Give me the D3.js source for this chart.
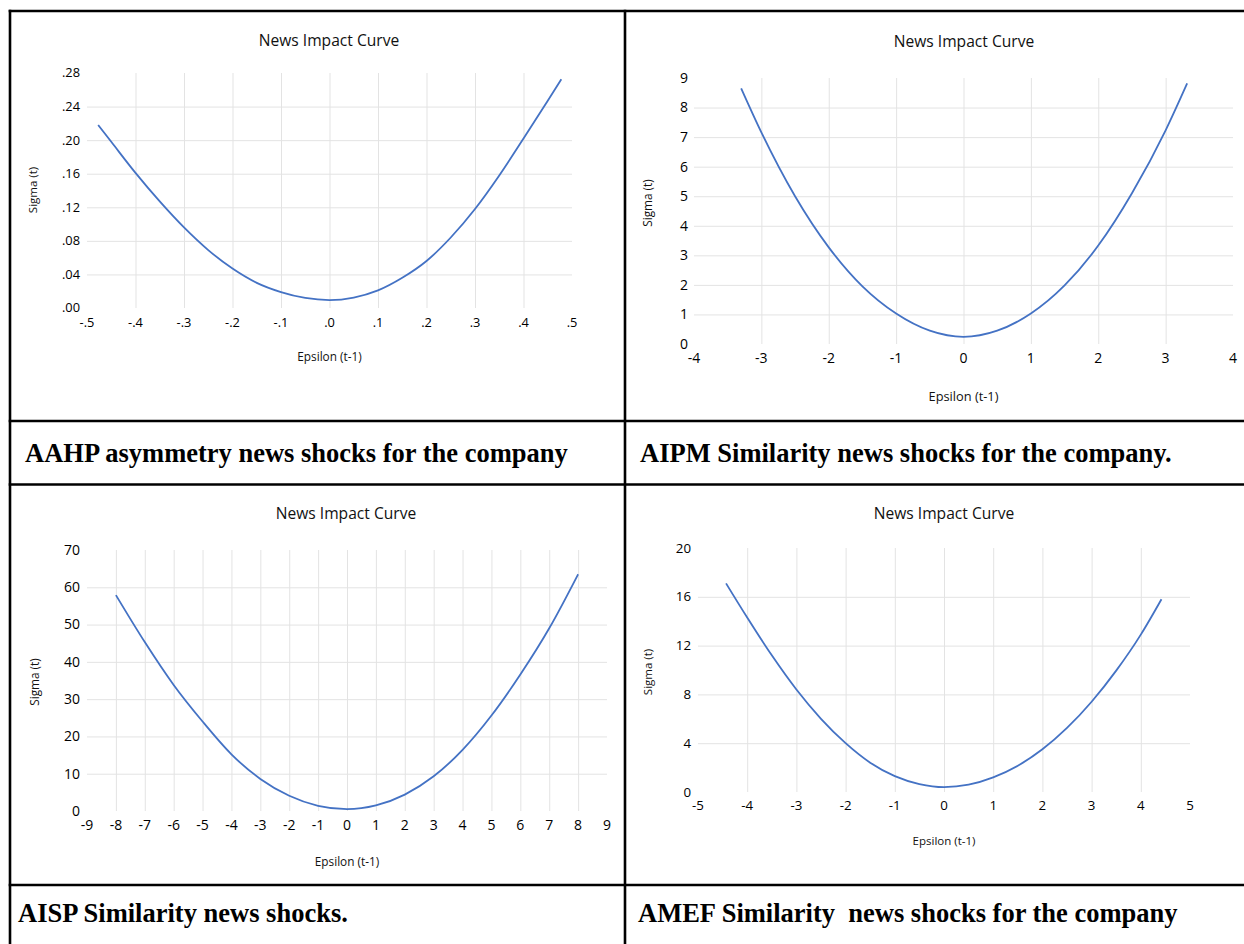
<!DOCTYPE html>
<html><head><meta charset="utf-8">
<script src="https://cdn.jsdelivr.net/npm/d3@7"></script>
<style>
html,body{margin:0;padding:0;background:#fff;}
svg{display:block;}
</style></head>
<body>
<svg id="c" width="1244" height="944"></svg>
<script>
// ---------- DATA ----------
// Chart 1: AAHP
const aahpEps   = [-0.477,-0.45,-0.4,-0.35,-0.3,-0.25,-0.2,-0.15,-0.1,-0.05,0,0.05,0.1,0.15,0.2,0.25,0.3,0.35,0.4,0.45,0.478];
const aahpSigma = [0.218,0.198,0.161,0.127,0.096,0.069,0.047,0.030,0.019,0.012,0.0095,0.0125,0.021,0.036,0.056,0.084,0.118,0.158,0.202,0.247,0.2726];
const aahpXTicks = [-0.5,-0.4,-0.3,-0.2,-0.1,0,0.1,0.2,0.3,0.4,0.5];
const aahpXLabels = ["-.5","-.4","-.3","-.2","-.1",".0",".1",".2",".3",".4",".5"];
const aahpYTicks = [0,0.04,0.08,0.12,0.16,0.20,0.24,0.28];
const aahpYLabels = [".00",".04",".08",".12",".16",".20",".24",".28"];

// Chart 2: AIPM
const aipmEps   = [-3.3,-3,-2.5,-2,-1.5,-1,-0.5,0,0.5,1,1.5,2,2.5,3,3.32];
const aipmSigma = [8.65,7.16,5.0,3.27,1.95,1.03,0.45,0.24,0.45,1.03,1.98,3.33,5.1,7.23,8.82];
const aipmXTicks = [-4,-3,-2,-1,0,1,2,3,4];
const aipmXLabels = ["-4","-3","-2","-1","0","1","2","3","4"];
const aipmYTicks = [0,1,2,3,4,5,6,7,8,9];
const aipmYLabels = ["0","1","2","3","4","5","6","7","8","9"];

// Chart 3: AISP
const aispEps   = [-8,-7,-6,-5,-4,-3,-2,-1,0,1,2,3,4,5,6,7,8];
const aispSigma = [57.9,45.3,33.8,24.0,15.2,8.6,4.1,1.4,0.5,1.5,4.4,9.3,16.4,25.6,36.6,49.0,63.5];
const aispXTicks = [-9,-8,-7,-6,-5,-4,-3,-2,-1,0,1,2,3,4,5,6,7,8,9];
const aispXLabels = ["-9","-8","-7","-6","-5","-4","-3","-2","-1","0","1","2","3","4","5","6","7","8","9"];
const aispYTicks = [0,10,20,30,40,50,60,70];
const aispYLabels = ["0","10","20","30","40","50","60","70"];

// Chart 4: AMEF
const amefEps   = [-4.43,-4,-3.5,-3,-2.5,-2,-1.5,-1,-0.5,0,0.5,1,1.5,2,2.5,3,3.5,4,4.42];
const amefSigma = [17.1,14.3,11.2,8.4,6.0,4.0,2.4,1.3,0.65,0.4,0.6,1.2,2.15,3.5,5.25,7.4,9.95,12.9,15.8];
const amefXTicks = [-5,-4,-3,-2,-1,0,1,2,3,4,5];
const amefXLabels = ["-5","-4","-3","-2","-1","0","1","2","3","4","5"];
const amefYTicks = [0,4,8,12,16,20];
const amefYLabels = ["0","4","8","12","16","20"];

const chartTitle = "News Impact Curve";
const xTitle = "Epsilon (t-1)";
const yTitle = "Sigma (t)";
const captions = [
  "AAHP asymmetry news shocks for the company",
  "AIPM Similarity news shocks for the company.",
  "AISP Similarity news shocks.",
  "AMEF Similarity\u00a0 news shocks for the company"
];

// ---------- LAYOUT ----------
const svg = d3.select("#c");
const FONT = "'Open Sans', 'Noto Sans', sans-serif";

const charts = [
  {eps:aahpEps, sig:aahpSigma, xt:aahpXTicks, xl:aahpXLabels, yt:aahpYTicks, yl:aahpYLabels,
   xr:[87,572], yr:[308,73], titleX:329, titleY:46, tickFs:12.8, xLabY:327, yLabX:80,
   xTitleY:361, yTitleX:37, yTitleY:190, axFs:11.8, yFs:11.5},
  {eps:aipmEps, sig:aipmSigma, xt:aipmXTicks, xl:aipmXLabels, yt:aipmYTicks, yl:aipmYLabels,
   xr:[694,1233], yr:[344,78], titleX:964, titleY:47, tickFs:14, xLabY:363, yLabX:688,
   xTitleY:401, yTitleX:652, yTitleY:203, axFs:12.8, yFs:11.8},
  {eps:aispEps, sig:aispSigma, xt:aispXTicks, xl:aispXLabels, yt:aispYTicks, yl:aispYLabels,
   xr:[87,607], yr:[811,550], titleX:346, titleY:519, tickFs:14, xLabY:830, yLabX:80,
   xTitleY:866, yTitleX:39, yTitleY:682, axFs:11.8, yFs:11.8},
  {eps:amefEps, sig:amefSigma, xt:amefXTicks, xl:amefXLabels, yt:amefYTicks, yl:amefYLabels,
   xr:[698,1190], yr:[792,548], titleX:944, titleY:519, tickFs:13.3, xLabY:810, yLabX:691,
   xTitleY:845, yTitleX:652, yTitleY:672, axFs:11.5, yFs:11.5}
];

charts.forEach(c => {
  const x = d3.scaleLinear().domain([c.xt[0], c.xt[c.xt.length-1]]).range(c.xr);
  const y = d3.scaleLinear().domain([c.yt[0], c.yt[c.yt.length-1]]).range(c.yr);
  const g = svg.append("g");
  // gridlines (interior only)
  const xAxis = d3.axisBottom(x).tickValues(c.xt.slice(1,-1)).tickSize(-(c.yr[0]-c.yr[1])).tickFormat("");
  g.append("g").attr("transform",`translate(0,${c.yr[0]})`).call(xAxis)
    .call(a=>a.select(".domain").remove())
    .call(a=>a.selectAll("line").attr("stroke","#e3e3e3").attr("stroke-width",1));
  const yAxis = d3.axisLeft(y).tickValues(c.yt.slice(1,-1)).tickSize(-(c.xr[1]-c.xr[0])).tickFormat("");
  g.append("g").attr("transform",`translate(${c.xr[0]},0)`).call(yAxis)
    .call(a=>a.select(".domain").remove())
    .call(a=>a.selectAll("line").attr("stroke","#e3e3e3").attr("stroke-width",1));
  // tick labels
  g.selectAll(".xl").data(c.xt).enter().append("text")
    .attr("x",d=>x(d)).attr("y",c.xLabY).attr("text-anchor","middle")
    .attr("font-family",FONT).attr("font-size",c.tickFs).attr("fill","#000")
    .text((d,i)=>c.xl[i]);
  g.selectAll(".yl").data(c.yt).enter().append("text")
    .attr("x",c.yLabX).attr("y",d=>y(d)).attr("dy","0.35em").attr("text-anchor","end")
    .attr("font-family",FONT).attr("font-size",c.tickFs).attr("fill","#000")
    .text((d,i)=>c.yl[i]);
  // titles
  g.append("text").attr("x",c.titleX).attr("y",c.titleY).attr("text-anchor","middle")
    .attr("font-family",FONT).attr("font-size",15.6).attr("fill","#111").text(chartTitle);
  g.append("text").attr("x",(c.xr[0]+c.xr[1])/2).attr("y",c.xTitleY).attr("text-anchor","middle")
    .attr("font-family",FONT).attr("font-size",c.axFs).attr("fill","#111").text(xTitle);
  g.append("text").attr("transform",`translate(${c.yTitleX},${c.yTitleY}) rotate(-90)`)
    .attr("text-anchor","middle")
    .attr("font-family",FONT).attr("font-size",c.yFs).attr("fill","#111").text(yTitle);
  // curve
  const pts = c.eps.map((e,i)=>[e,c.sig[i]]);
  g.append("path").datum(pts)
    .attr("d", d3.line().x(d=>x(d[0])).y(d=>y(d[1])).curve(d3.curveMonotoneX))
    .attr("fill","none").attr("stroke","#4472c4").attr("stroke-width",1.8);
});

// ---------- TABLE BORDERS & CAPTIONS ----------
const bw = 2.6;
const hLines = [11, 421, 484.5, 885];
const vLines = [10, 625];
hLines.forEach(yy => svg.append("line").attr("x1",8.7).attr("x2",1244).attr("y1",yy).attr("y2",yy)
  .attr("stroke","#000").attr("stroke-width",bw));
vLines.forEach(xx => svg.append("line").attr("x1",xx).attr("x2",xx).attr("y1",9.7).attr("y2",944)
  .attr("stroke","#000").attr("stroke-width",bw));

const capPos = [[25,462],[640,462],[18,922],[638,922]];
captions.forEach((t,i) => svg.append("text").attr("x",capPos[i][0]).attr("y",capPos[i][1])
  .attr("font-family","'Liberation Serif','Times New Roman',serif").attr("font-weight","bold")
  .attr("font-size",26.5).attr("fill","#000").text(t));
</script>
</body></html>
